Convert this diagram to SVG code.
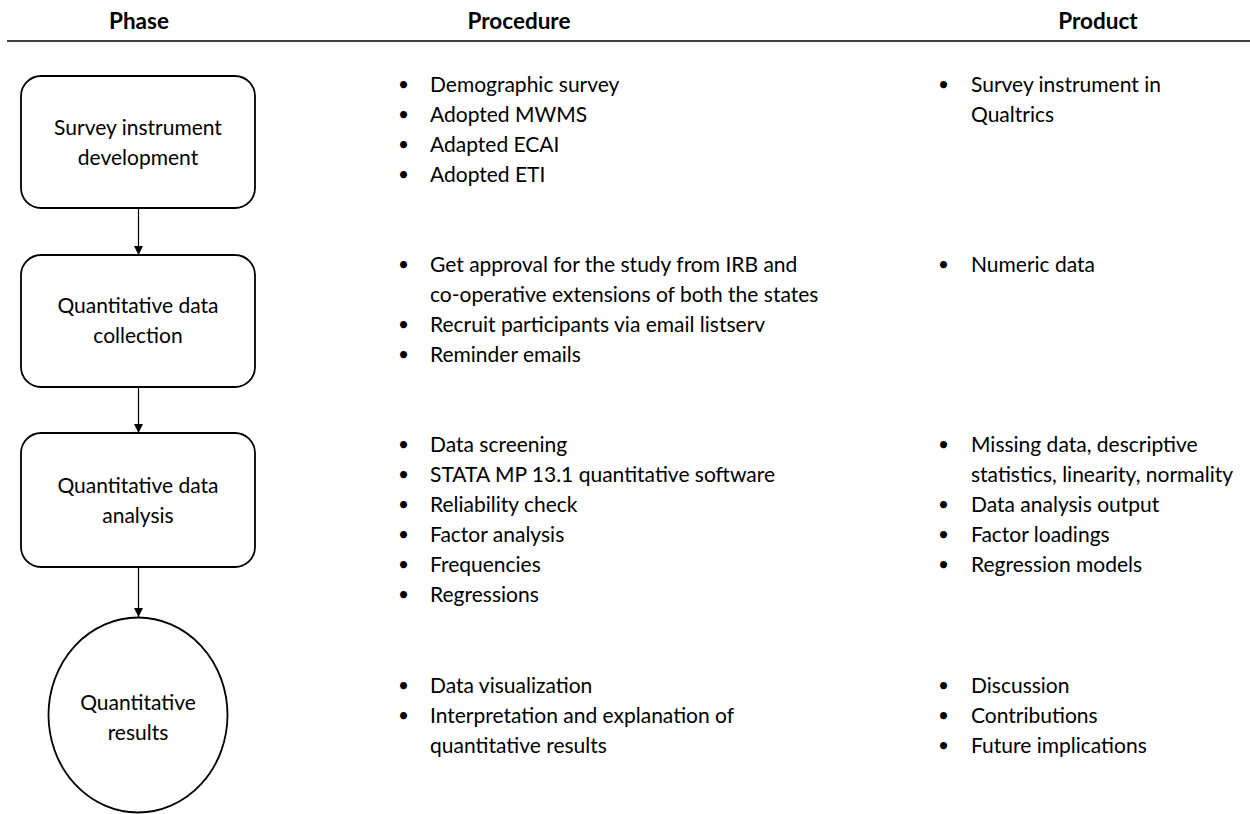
<svg xmlns="http://www.w3.org/2000/svg" width="1250" height="814" viewBox="0 0 1250 814">
<defs>
<marker id="ah" viewBox="0 0 10 10" refX="10" refY="5" markerWidth="9" markerHeight="9" markerUnits="userSpaceOnUse" orient="auto">
<path d="M0,0 L10,5 L0,10 z" fill="#000"/>
</marker>
</defs>
<style>
text{font-family:Lato,"Liberation Sans",sans-serif;font-size:21px;fill:#000}
.h{font-weight:bold;font-size:22.5px;text-anchor:middle}
.c{text-anchor:middle}
.b{font-size:19px}
.n{fill:#fff;stroke:#000;stroke-width:1.8}
.e{stroke:#000;stroke-width:1.2;fill:none}
</style>
<rect width="1250" height="814" fill="#fff"/>
<g id="header">
<text class="h" x="139" y="29">Phase</text>
<text class="h" x="519" y="29">Procedure</text>
<text class="h" x="1098" y="29">Product</text>
<line x1="7" y1="41" x2="1250" y2="41" stroke="#000" stroke-width="1.4"/>
</g>
<g id="connectors">
<line class="e" x1="138.5" y1="209" x2="138.5" y2="255" marker-end="url(#ah)"/>
<line class="e" x1="138.5" y1="387" x2="138.5" y2="433" marker-end="url(#ah)"/>
<line class="e" x1="138.5" y1="567" x2="138.5" y2="617" marker-end="url(#ah)"/>
</g>
<g id="node1">
<rect class="n" x="21" y="76" width="234" height="132" rx="20"/>
<text class="c" x="138" y="135">Survey instrument</text>
<text class="c" x="138" y="165">development</text>
</g>
<g id="node2">
<rect class="n" x="21" y="255" width="234" height="132" rx="20"/>
<text class="c" x="138" y="313">Quantitative data</text>
<text class="c" x="138" y="343">collection</text>
</g>
<g id="node3">
<rect class="n" x="21" y="433" width="234" height="134" rx="20"/>
<text class="c" x="138" y="493">Quantitative data</text>
<text class="c" x="138" y="523">analysis</text>
</g>
<g id="node4">
<ellipse class="n" cx="138" cy="715" rx="89.5" ry="97.5"/>
<text class="c" x="138" y="710">Quantitative</text>
<text class="c" x="138" y="740">results</text>
</g>
<g id="procedure">
<text class="b" x="398" y="91">•</text><text x="430" y="92">Demographic survey</text>
<text class="b" x="398" y="121">•</text><text x="430" y="122">Adopted MWMS</text>
<text class="b" x="398" y="151">•</text><text x="430" y="152">Adapted ECAI</text>
<text class="b" x="398" y="181">•</text><text x="430" y="182">Adopted ETI</text>
<text class="b" x="398" y="271">•</text><text x="430" y="272">Get approval for the study from IRB and</text>
<text x="430" y="302">co-operative extensions of both the states</text>
<text class="b" x="398" y="331">•</text><text x="430" y="332">Recruit participants via email listserv</text>
<text class="b" x="398" y="361">•</text><text x="430" y="362">Reminder emails</text>
<text class="b" x="398" y="451">•</text><text x="430" y="452">Data screening</text>
<text class="b" x="398" y="481">•</text><text x="430" y="482">STATA MP 13.1 quantitative software</text>
<text class="b" x="398" y="511">•</text><text x="430" y="512">Reliability check</text>
<text class="b" x="398" y="541">•</text><text x="430" y="542">Factor analysis</text>
<text class="b" x="398" y="571">•</text><text x="430" y="572">Frequencies</text>
<text class="b" x="398" y="601">•</text><text x="430" y="602">Regressions</text>
<text class="b" x="398" y="692">•</text><text x="430" y="693">Data visualization</text>
<text class="b" x="398" y="722">•</text><text x="430" y="723">Interpretation and explanation of</text>
<text x="430" y="753">quantitative results</text>
</g>
<g id="product">
<text class="b" x="938" y="91">•</text><text x="971" y="92">Survey instrument in</text>
<text x="971" y="122">Qualtrics</text>
<text class="b" x="938" y="271">•</text><text x="971" y="272">Numeric data</text>
<text class="b" x="938" y="451">•</text><text x="971" y="452">Missing data, descriptive</text>
<text x="971" y="482">statistics, linearity, normality</text>
<text class="b" x="938" y="511">•</text><text x="971" y="512">Data analysis output</text>
<text class="b" x="938" y="541">•</text><text x="971" y="542">Factor loadings</text>
<text class="b" x="938" y="571">•</text><text x="971" y="572">Regression models</text>
<text class="b" x="938" y="692">•</text><text x="971" y="693">Discussion</text>
<text class="b" x="938" y="722">•</text><text x="971" y="723">Contributions</text>
<text class="b" x="938" y="752">•</text><text x="971" y="753">Future implications</text>
</g>
</svg>
